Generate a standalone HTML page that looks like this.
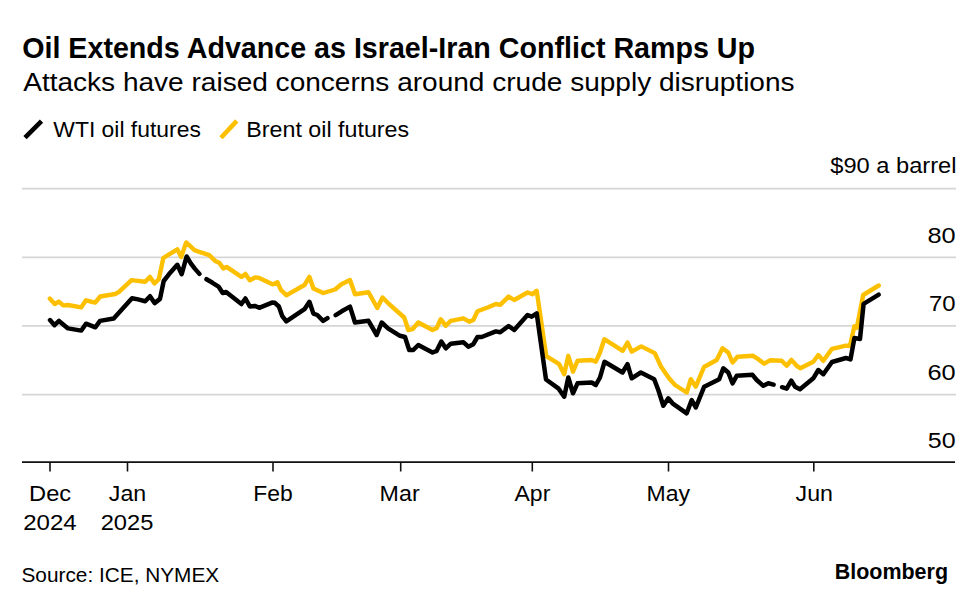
<!DOCTYPE html>
<html><head><meta charset="utf-8"><title>Oil Extends Advance as Israel-Iran Conflict Ramps Up</title>
<style>
html,body{margin:0;padding:0;background:#fff;}
body{width:978px;height:608px;overflow:hidden;position:relative;}
svg{position:absolute;left:0;top:0;}
text{font-family:"Liberation Sans",Arial,sans-serif;fill:#000;}
.title{font-weight:bold;font-size:28.7px;}
.sub{font-size:25.7px;}
.leg{font-size:22px;}
.ax{font-size:22px;}
.src{font-size:21px;}
.logo{font-weight:bold;font-size:21.8px;}
</style></head>
<body>
<svg width="978" height="608" viewBox="0 0 978 608">
<text x="22.2" y="58.1" style="font-size:28.7px;font-weight:bold" textLength="732.87" lengthAdjust="spacingAndGlyphs">Oil Extends Advance as Israel-Iran Conflict Ramps Up</text>
<text x="23.2" y="91.1" style="font-size:25.7px" textLength="771.37" lengthAdjust="spacingAndGlyphs">Attacks have raised concerns around crude supply disruptions</text>
<text x="53.3" y="137" style="font-size:22px" textLength="147.55" lengthAdjust="spacingAndGlyphs">WTI oil futures</text>
<text x="246.29" y="137" style="font-size:22px" textLength="162.85" lengthAdjust="spacingAndGlyphs">Brent oil futures</text>
<line x1="25" y1="137.6" x2="41.5" y2="121.1" stroke="#000" stroke-width="4.6"/>
<line x1="221" y1="137.8" x2="236.8" y2="120.9" stroke="#FCC000" stroke-width="4.6"/>
<line x1="22" x2="956" y1="188.7" y2="188.7" stroke="#D6D6D6" stroke-width="1.8"/>
<line x1="22" x2="956" y1="257.4" y2="257.4" stroke="#D6D6D6" stroke-width="1.8"/>
<line x1="22" x2="956" y1="325.9" y2="325.9" stroke="#D6D6D6" stroke-width="1.8"/>
<line x1="22" x2="956" y1="394.6" y2="394.6" stroke="#D6D6D6" stroke-width="1.8"/>
<polyline points="49.8,298.6 54.7,304 58.8,301.6 63.3,305.4 68,305 81.1,307.4 86,300.3 95.2,302.6 100.2,296.5 115.2,294 119,291.8 131.5,280.1 145.2,281.8 150,276.9 154.5,283.5 158.8,279.3 163.3,258 177.3,249.3 181.2,257 186.2,242.4 194.5,250.1 200.2,252.2 209.3,255.1 215.2,261 219.2,262.8 223.3,268.4 226.6,266.9 241.4,276.9 245.4,273.9 249.8,280.2 255.2,277.4 259.2,277.9 273,284.4 277.4,282.2 280.8,289.7 286.3,295.3 304.5,285 309.4,276.8 313.4,288.5 323.3,293 335.1,289.5 341,284.5 350,280 355,294.2 368.5,292.2 377.3,308 382.5,297.5 388.3,303.3 404.2,317.5 408.3,330 412.5,329.2 418.3,322.5 432.5,330 436.7,328 440.7,319.2 445.8,325.8 450.8,320.8 463.3,318.3 469.2,321.7 473.3,320 477.5,311.3 488.3,307.3 495.8,304 500.2,304.9 508.6,296.5 514.2,300 527.5,292.5 532.5,294.2 536.7,290.8 546.3,356.2 559.2,364.2 564.2,374.2 568.3,355.8 573,371.7 577.5,360.8 591.7,360 595.8,361.7 600,352.5 604.3,339.2 622.7,350.8 627.5,342.5 631.7,351.7 641.2,346.4 654.8,353.1 661.1,366.8 669,378.3 675,385 686.7,392.5 690.8,379.2 695.8,386.7 704,367 716.7,360 722.5,348.3 728.3,352.5 732.5,362.5 737.5,356.7 753,355.8 758.3,359.2 764.2,363.7 770,360.3 781.7,360.8 786.7,365.8 791.4,359.9 796.7,365.8 800.3,368.2 813.3,361.7 818.3,355 823.3,360.8 832,348.8 846,345.6 849.9,346 854.4,326.3 856.8,327.9 863.2,295 878.7,285.5" fill="none" stroke="#FCC000" stroke-width="4.4" stroke-linejoin="round" stroke-linecap="round"/>
<polyline points="50,320.1 54.5,325.2 59,320.9 68,328.4 81.3,330.6 86,323.7 95.4,327.3 100,320.9 113.7,318.5 132,298.3 138,299.4 145.2,301.2 150,296.2 154.6,303.1 160,298.9 163.7,281 168.9,274.3 177.3,264.8 181.7,274.2 186.6,256.5 190.8,263.4 194.8,268.6 199.4,273.9" fill="none" stroke="#000000" stroke-width="4.5" stroke-linejoin="round" stroke-linecap="round"/>
<polyline points="206.5,279.2 212.5,282.8 218.5,286.6 222.7,293 226.1,292 241.4,304 245.4,298.5 249.8,306.4 254.7,305.9 259.2,307.8 272,302.6 274.9,302.8 278.9,306.5 282.3,316.2 286.3,321.3 304.5,309.2 309.4,301.8 313.4,313.6 317.3,315 323.1,320.9 327.5,318.2" fill="none" stroke="#000000" stroke-width="4.5" stroke-linejoin="round" stroke-linecap="round"/>
<polyline points="335.7,315.2 341.7,311.3 350,306.6 355,322.5 368.5,320.8 376.7,335 381.7,322.5 388,328.3 400,335.8 405,337 409.2,350 413.3,350 418.3,345 432.5,352.5 436.7,350.8 441.3,341.6 445.8,348.3 450.8,343.7 463.3,342.2 468.3,346.7 473.3,344.2 477.5,337 481.7,337 495.8,331.4 500.2,332.3 508.6,326 514.2,330 527.5,315 531.7,316.7 536.7,313.4 546,379.5 558.3,388.3 564.2,396.7 568.3,377.5 573,393.3 577.5,383.3 591.7,382.5 595.8,385 600,377.5 604.5,361.8 622.5,372.5 627.5,364.2 631.7,378.3 640.8,372.5 654.2,379.2 658.3,390 663.3,405.8 668.3,398.3 672.5,403.3 686.7,413.3 691.7,400 695.8,407.5 704.2,386.7 719.2,379.2 723.3,368.3 728.3,372.5 732.5,383.3 736.7,375.8 752.5,374.8 756.7,380 763.3,385.8 768.3,383.3 773.6,384.6" fill="none" stroke="#000000" stroke-width="4.5" stroke-linejoin="round" stroke-linecap="round"/>
<polyline points="782,387.2 786.7,388.6 791.3,380.6 795,386.7 800,389.2 813.3,378.3 818.3,370 823.3,374.2 832,362 846,358 850.5,359.4 854.4,338.1 860,338.9 863.6,303.8 878.7,294.6" fill="none" stroke="#000000" stroke-width="4.5" stroke-linejoin="round" stroke-linecap="round"/>
<line x1="22" x2="955" y1="462.2" y2="462.2" stroke="#111" stroke-width="1.8"/>
<line x1="50" x2="50" y1="462" y2="471.5" stroke="#111" stroke-width="1.6"/>
<line x1="127.5" x2="127.5" y1="462" y2="471.5" stroke="#111" stroke-width="1.6"/>
<line x1="273" x2="273" y1="462" y2="471.5" stroke="#111" stroke-width="1.6"/>
<line x1="400.7" x2="400.7" y1="462" y2="471.5" stroke="#111" stroke-width="1.6"/>
<line x1="532.3" x2="532.3" y1="462" y2="471.5" stroke="#111" stroke-width="1.6"/>
<line x1="668.5" x2="668.5" y1="462" y2="471.5" stroke="#111" stroke-width="1.6"/>
<line x1="813.8" x2="813.8" y1="462" y2="471.5" stroke="#111" stroke-width="1.6"/>
<text x="830.3" y="173.3" style="font-size:22px" textLength="126.23" lengthAdjust="spacingAndGlyphs">&#36;90 a barrel</text>
<text x="927.45" y="242.7" style="font-size:22px" textLength="28.21" lengthAdjust="spacingAndGlyphs">80</text>
<text x="929.01" y="311.4" style="font-size:22px" textLength="26.61" lengthAdjust="spacingAndGlyphs">70</text>
<text x="927.45" y="380.3" style="font-size:22px" textLength="28.21" lengthAdjust="spacingAndGlyphs">60</text>
<text x="927.87" y="448.3" style="font-size:22px" textLength="27.78" lengthAdjust="spacingAndGlyphs">50</text>
<text x="29.1" y="501.2" style="font-size:21.5px" textLength="42.06" lengthAdjust="spacingAndGlyphs">Dec</text>
<text x="23.18" y="529.7" style="font-size:21.5px" textLength="53.56" lengthAdjust="spacingAndGlyphs">2024</text>
<text x="108.82" y="501.3" style="font-size:21.5px" textLength="37.38" lengthAdjust="spacingAndGlyphs">Jan</text>
<text x="100.7" y="529.7" style="font-size:21.5px" textLength="52.73" lengthAdjust="spacingAndGlyphs">2025</text>
<text x="253.27" y="501.2" style="font-size:21.5px" textLength="39.46" lengthAdjust="spacingAndGlyphs">Feb</text>
<text x="379.64" y="501.2" style="font-size:21.5px" textLength="39.99" lengthAdjust="spacingAndGlyphs">Mar</text>
<text x="514.5" y="501.2" style="font-size:21.5px" textLength="35.8" lengthAdjust="spacingAndGlyphs">Apr</text>
<text x="646.56" y="501.2" style="font-size:21.5px" textLength="43.51" lengthAdjust="spacingAndGlyphs">May</text>
<text x="795.62" y="501.2" style="font-size:21.5px" textLength="37.38" lengthAdjust="spacingAndGlyphs">Jun</text>
<text x="21.51" y="582.4" style="font-size:21px" textLength="197.65" lengthAdjust="spacingAndGlyphs">Source: ICE, NYMEX</text>
<text x="834.72" y="578.9" style="font-size:21.8px;font-weight:bold" textLength="113.32" lengthAdjust="spacingAndGlyphs">Bloomberg</text>
</svg>
</body></html>
